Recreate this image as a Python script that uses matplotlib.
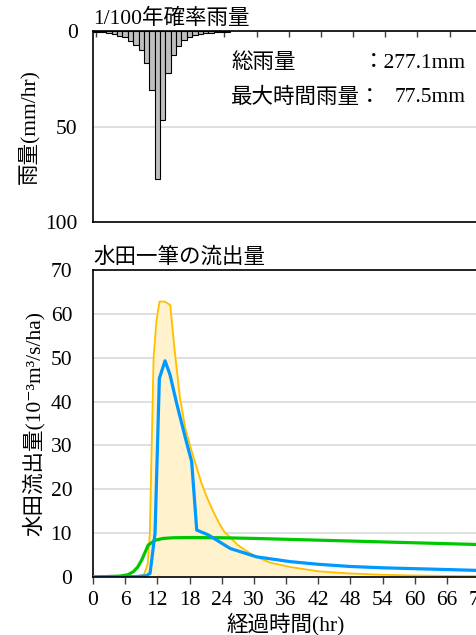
import matplotlib
matplotlib.use("Agg")
import matplotlib.pyplot as plt

plt.rcParams['font.family'] = ['Liberation Serif', 'Noto Sans CJK JP', 'DejaVu Serif']

# ---- data ----
rain_hours = list(range(0, 26))
rain_mm = [0.3, 0.4, 0.7, 1.2, 1.8, 2.4, 3.4, 5.1, 7.2, 10.0,
           16.5, 31.0, 77.5, 46.5, 21.8, 12.5, 7.7, 4.8, 3.3, 2.2,
           1.7, 1.2, 1.0, 0.7, 0.5, 0.3]

orange_t = [0, 8, 9.5, 10.2, 10.6, 11.3, 11.8, 12.4, 13.4, 14.4, 15.2, 16.2, 17.2,
            18.2, 19.2, 20.2, 21.2, 22.4, 23.5, 24.5, 25.6, 27, 28.5, 30.5, 33,
            36.7, 42, 48, 54, 60, 66, 72]
orange_q = [0, 0.1, 0.5, 3, 10, 50, 58, 62.8, 62.8, 62.0, 52, 41, 34,
            29.5, 25.5, 21.5, 18.3, 15, 12.3, 10.3, 9.0, 7.3, 6.0, 4.6, 3.3,
            2.3, 1.3, 0.8, 0.5, 0.35, 0.25, 0.2]

blue_t = [0, 8, 10, 10.64, 11.57, 12.38, 13.44, 14.37, 15.6, 17.17, 18.4, 19.35,
          21.5, 25.6, 30.5, 36.8, 42, 48, 54, 60, 66, 72]
blue_q = [0, 0.1, 0.3, 0.84, 9.96, 45.3, 49.3, 46.1, 39.6, 32, 26.3, 10.7,
          9.6, 6.5, 4.6, 3.5, 2.9, 2.4, 2.1, 1.9, 1.7, 1.5]

green_t = [0, 5, 6.5, 7.5, 8.3, 9.1, 10.3, 11.6, 13.1, 15, 18, 24, 30, 36, 42, 48, 54, 60, 66, 72]
green_q = [0, 0.2, 0.5, 1.2, 2.2, 3.9, 7.3, 8.4, 8.8, 8.95, 9.0, 8.95, 8.8, 8.6, 8.4, 8.2, 8.0, 7.8, 7.6, 7.4]

xticks = list(range(0, 73, 6))
rain_yticks = [0, 50, 100]
flow_yticks = list(range(0, 71, 10))
total_name = "総雨量"
total_label = "：277.1mm"
max_name = "最大時間雨量："
max_label = "77.5mm"

W, H = 477, 635
fig = plt.figure(figsize=(W / 100, H / 100), dpi=100)

def ax_rect(l, t, r, b):
    return [l / W, 1 - b / H, (r - l) / W, (b - t) / H]

FS = 15.5
axis_col = '#000000'

# ---- top: rainfall ----
ax1 = fig.add_axes(ax_rect(93, 31, 479, 222))
ax1.bar(rain_hours, rain_mm, width=1.0, color='#BFBFBF', edgecolor='#000000', linewidth=0.8, zorder=3)
ax1.set_xlim(0, 72)
ax1.set_ylim(100, 0)
ax1.set_yticks(rain_yticks)
ax1.set_yticklabels([str(v) for v in rain_yticks], fontsize=FS)
ax1.xaxis.tick_top()
ax1.set_xticks([t + 0.5 for t in xticks[:-1]])
ax1.set_xticklabels([])
ax1.tick_params(axis='x', direction='in', length=4, width=1, color='#404040', top=True, bottom=False)
ax1.tick_params(axis='y', length=0, pad=11)
ax1.grid(axis='y', color='#D9D9D9', linewidth=1.2, zorder=0)
for s in ['left', 'top', 'bottom']:
    ax1.spines[s].set_color(axis_col)
    ax1.spines[s].set_linewidth(1.2)
ax1.spines['right'].set_visible(False)
ax1.set_ylabel('雨量(mm/hr)', fontsize=FS, labelpad=4)
fig.text(93 / W, 1 - 19 / H, '1/100年確率雨量', fontsize=FS, ha='left', va='center')

def px(x, y):
    return ((x - 93) / 386, 1 - (y - 31) / 191)

ax1.text(*px(231, 63), total_name, transform=ax1.transAxes, fontsize=FS, ha='left', va='center')
ax1.text(*px(466, 63), total_label, transform=ax1.transAxes, fontsize=FS, ha='right', va='center')
ax1.text(*px(231, 98), max_name, transform=ax1.transAxes, fontsize=FS, ha='left', va='center')
ax1.text(*px(466, 98), max_label, transform=ax1.transAxes, fontsize=FS, ha='right', va='center')

# ---- bottom: runoff ----
ax2 = fig.add_axes(ax_rect(93, 270, 479, 577))
ax2.fill_between(orange_t, orange_q, 0, color='#FFF2CC', zorder=2)
ax2.plot(orange_t, orange_q, color='#FFC000', linewidth=1.3, zorder=3)
ax2.plot(green_t, green_q, color='#00C800', linewidth=2.3, zorder=4)
ax2.plot(blue_t, blue_q, color='#0099FF', linewidth=2.3, zorder=5)
ax2.set_xlim(0, 72)
ax2.set_ylim(0, 70)
ax2.set_xticks(xticks)
ax2.set_xticklabels([str(t) for t in xticks], fontsize=FS)
ax2.set_yticks(flow_yticks)
ax2.set_yticklabels([str(v) for v in flow_yticks], fontsize=FS)
ax2.tick_params(axis='x', direction='out', length=5, width=1, color='#404040', pad=5)
ax2.tick_params(axis='y', length=0, pad=15)
ax2.grid(axis='y', color='#D9D9D9', linewidth=1.2, zorder=0)
for s in ['left', 'top', 'bottom']:
    ax2.spines[s].set_color(axis_col)
    ax2.spines[s].set_linewidth(1.2)
ax2.spines['bottom'].set_zorder(6)
ax2.spines['right'].set_visible(False)
ax2.set_ylabel('水田流出量(10⁻³m³/s/ha)', fontsize=FS, labelpad=4)
ax2.set_xlabel('経過時間(hr)', fontsize=FS, labelpad=2)
fig.text(93 / W, 1 - 258 / H, '水田一筆の流出量', fontsize=FS, ha='left', va='center')

fig.savefig('out.png', dpi=100)
